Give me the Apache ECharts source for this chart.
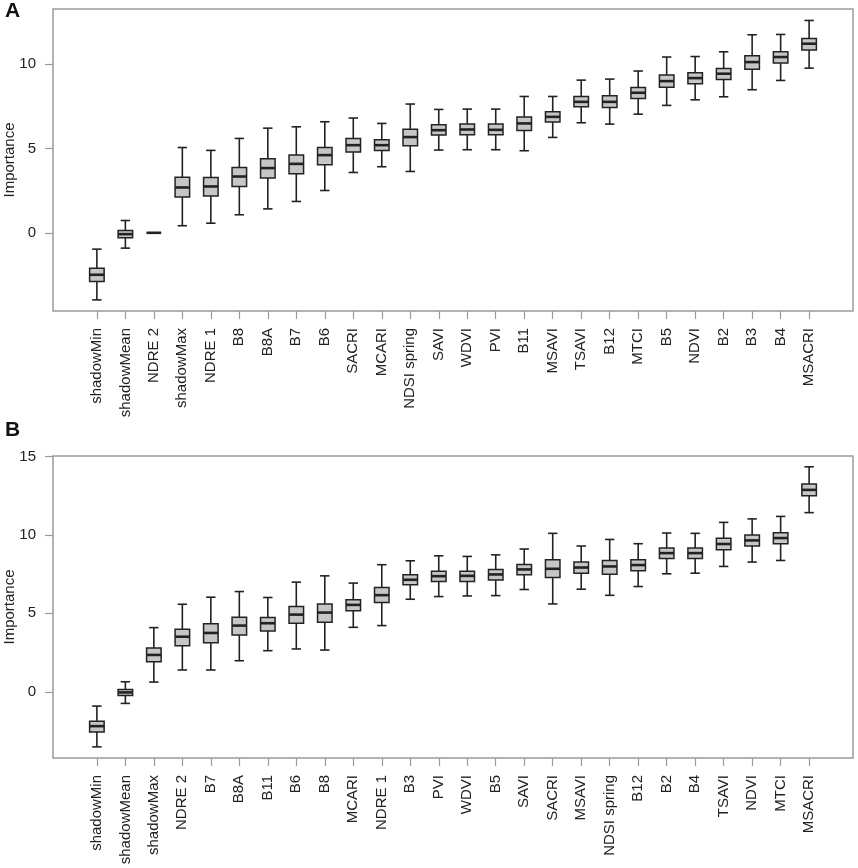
<!DOCTYPE html>
<html>
<head>
<meta charset="utf-8">
<title>Importance boxplots</title>
<script src="https://cdn.jsdelivr.net/npm/echarts@6/dist/echarts.min.js"></script>
<style>
    html, body { margin: 0; padding: 0; background: #fff; }
    #chart { width: 858px; height: 868px; }
</style>
</head>
<body>
<div id="chart"></div>
<script>
// panel A: categories and [lower whisker, Q1, median, Q3, upper whisker]
var categoriesA = ['shadowMin', 'shadowMean', 'NDRE 2', 'shadowMax', 'NDRE 1', 'B8', 'B8A', 'B7', 'B6',
    'SACRI', 'MCARI', 'NDSI spring', 'SAVI', 'WDVI', 'PVI', 'B11', 'MSAVI', 'TSAVI', 'B12', 'MTCI',
    'B5', 'NDVI', 'B2', 'B3', 'B4', 'MSACRI'];
var statsA = [
    [-3.98, -2.89, -2.49, -2.10, -0.97],
    [-0.91, -0.30, -0.08, 0.14, 0.73],
    [0, 0, 0, 0, 0],
    [0.42, 2.12, 2.69, 3.30, 5.06],
    [0.57, 2.18, 2.75, 3.28, 4.89],
    [1.07, 2.75, 3.34, 3.88, 5.60],
    [1.42, 3.25, 3.84, 4.39, 6.21],
    [1.86, 3.50, 4.09, 4.61, 6.29],
    [2.51, 4.04, 4.61, 5.06, 6.59],
    [3.58, 4.79, 5.20, 5.60, 6.81],
    [3.92, 4.89, 5.20, 5.52, 6.49],
    [3.64, 5.16, 5.68, 6.15, 7.64],
    [4.91, 5.80, 6.09, 6.41, 7.32],
    [4.93, 5.82, 6.13, 6.45, 7.34],
    [4.93, 5.82, 6.11, 6.45, 7.34],
    [4.87, 6.07, 6.49, 6.87, 8.09],
    [5.66, 6.57, 6.88, 7.18, 8.09],
    [6.53, 7.48, 7.77, 8.09, 9.06],
    [6.45, 7.44, 7.77, 8.13, 9.12],
    [7.04, 7.97, 8.31, 8.62, 9.60],
    [7.56, 8.64, 9.00, 9.36, 10.43],
    [7.89, 8.84, 9.18, 9.50, 10.46],
    [8.07, 9.10, 9.44, 9.75, 10.74],
    [8.49, 9.71, 10.13, 10.50, 11.75],
    [9.04, 10.07, 10.43, 10.74, 11.77],
    [9.77, 10.84, 11.22, 11.53, 12.60]
];

// panel B
var categoriesB = ['shadowMin', 'shadowMean', 'shadowMax', 'NDRE 2', 'B7', 'B8A', 'B11', 'B6', 'B8',
    'MCARI', 'NDRE 1', 'B3', 'PVI', 'WDVI', 'B5', 'SAVI', 'SACRI', 'MSAVI', 'NDSI spring', 'B12',
    'B2', 'B4', 'TSAVI', 'NDVI', 'MTCI', 'MSACRI'];
var statsB = [
    [-3.51, -2.56, -2.19, -1.87, -0.91],
    [-0.74, -0.23, -0.04, 0.15, 0.64],
    [0.62, 1.92, 2.35, 2.79, 4.09],
    [1.39, 2.94, 3.51, 3.99, 5.58],
    [1.39, 3.13, 3.75, 4.33, 6.03],
    [1.98, 3.62, 4.22, 4.75, 6.39],
    [2.62, 3.88, 4.37, 4.73, 6.01],
    [2.73, 4.37, 4.92, 5.43, 6.99],
    [2.66, 4.43, 5.05, 5.60, 7.39],
    [4.11, 5.16, 5.54, 5.86, 6.93],
    [4.22, 5.69, 6.16, 6.65, 8.10],
    [5.90, 6.82, 7.14, 7.46, 8.35],
    [6.07, 7.03, 7.37, 7.69, 8.67],
    [6.11, 7.03, 7.39, 7.69, 8.63],
    [6.13, 7.12, 7.48, 7.80, 8.73],
    [6.52, 7.46, 7.80, 8.12, 9.10],
    [5.60, 7.29, 7.84, 8.41, 10.10],
    [6.54, 7.56, 7.92, 8.27, 9.29],
    [6.15, 7.50, 7.99, 8.37, 9.71],
    [6.71, 7.71, 8.08, 8.41, 9.44],
    [7.52, 8.50, 8.84, 9.16, 10.12],
    [7.56, 8.50, 8.84, 9.16, 10.10],
    [7.99, 9.05, 9.42, 9.78, 10.80],
    [8.27, 9.29, 9.65, 9.99, 11.02],
    [8.37, 9.44, 9.80, 10.14, 11.18],
    [11.42, 12.50, 12.87, 13.25, 14.34]
];

var ticksA = [0, 5, 10];
var ticksB = [0, 5, 10, 15];

var FONT = 'Liberation Sans, Arial, sans-serif';
var FRAME = '#9a9a9a';
var INK = '#222';

/**
 * 一个箱线图：R风格的箱体、须线和加粗中位线
 */
function renderBox(params, api) {
    var x = api.value(0);
    var low = api.coord([x, api.value(1)]);
    var q1 = api.coord([x, api.value(2)]);
    var med = api.coord([x, api.value(3)]);
    var q3 = api.coord([x, api.value(4)]);
    var high = api.coord([x, api.value(5)]);
    var bw = api.size([1, 0])[0];
    var half = bw * 0.255;
    var cap = bw * 0.165;
    var cx = med[0];
    var line = { stroke: INK, lineWidth: 1.6 };
    return {
        type: 'group',
        children: [
            { type: 'line', shape: { x1: cx, y1: q3[1], x2: cx, y2: high[1] }, style: line },
            { type: 'line', shape: { x1: cx, y1: q1[1], x2: cx, y2: low[1] }, style: line },
            { type: 'line', shape: { x1: cx - cap, y1: high[1], x2: cx + cap, y2: high[1] }, style: line },
            { type: 'line', shape: { x1: cx - cap, y1: low[1], x2: cx + cap, y2: low[1] }, style: line },
            {
                type: 'rect',
                shape: { x: cx - half, y: q3[1], width: half * 2, height: q1[1] - q3[1] },
                style: { fill: '#c6c6c6', stroke: INK, lineWidth: 1.5 }
            },
            { type: 'line', shape: { x1: cx - half, y1: med[1], x2: cx + half, y2: med[1] }, style: { stroke: INK, lineWidth: 2.6 } }
        ]
    };
}

/**
 * 构造一个面板：外框网格 + 数据网格
 */
function panel(opt, idx, cats, stats, ticks, top, height, yMin, yMax) {
    var n = cats.length;
    var frameLeft = 53, frameWidth = 800;
    var bw = frameWidth / (n * 1.08);      // R 在两侧各留 4% 的范围
    var left = frameLeft + 0.04 * n * bw;
    var fg = idx * 2, dg = idx * 2 + 1;

    opt.grid.push({
        left: frameLeft, top: top, width: frameWidth, height: height,
        outerBoundsMode: 'none', containLabel: false,
        show: true, borderColor: FRAME, borderWidth: 1.5, backgroundColor: '#fff'
    });
    opt.grid.push({
        left: left, top: top, width: bw * n, height: height,
        outerBoundsMode: 'none', containLabel: false
    });

    opt.xAxis.push({ gridIndex: fg, type: 'value', show: false, min: 0, max: 1 });
    opt.yAxis.push({
        gridIndex: fg, type: 'value', min: yMin, max: yMax,
        name: 'Importance', nameLocation: 'middle', nameGap: 36, nameMoveOverlap: false,
        nameTextStyle: { fontFamily: FONT, fontSize: 15, color: INK },
        axisLine: { show: false },
        splitLine: { show: false },
        axisTick: { show: true, length: 8, customValues: ticks, lineStyle: { color: FRAME, width: 1.2 } },
        axisLabel: { customValues: ticks, margin: 17, fontFamily: FONT, fontSize: 15, color: INK }
    });

    opt.xAxis.push({
        gridIndex: dg, type: 'category', data: cats, boundaryGap: true, position: 'bottom',
        axisLine: { show: false, onZero: false },
        axisTick: { show: true, alignWithLabel: true, length: 8, interval: 0, lineStyle: { color: FRAME, width: 1.2 } },
        axisLabel: { interval: 0, rotate: 90, margin: 17, fontFamily: FONT, fontSize: 15, color: INK }
    });
    opt.yAxis.push({ gridIndex: dg, type: 'value', min: yMin, max: yMax, show: false });

    opt.series.push({
        type: 'custom',
        xAxisIndex: dg,
        yAxisIndex: dg,
        renderItem: renderBox,
        encode: { x: 0, y: [1, 2, 3, 4, 5] },
        data: stats.map(function (s, i) { return [i].concat(s); }),
        silent: true
    });
}

var chart = echarts.init(document.getElementById('chart'), null, { renderer: 'canvas' });
var option = {
    animation: false,
    backgroundColor: '#fff',
    title: [
        { text: 'A', left: 5, top: 1, padding: 0, textStyle: { fontFamily: FONT, fontSize: 21, fontWeight: 'bold', color: '#111' } },
        { text: 'B', left: 5, top: 420, padding: 0, textStyle: { fontFamily: FONT, fontSize: 21, fontWeight: 'bold', color: '#111' } }
    ],
    grid: [],
    xAxis: [],
    yAxis: [],
    series: []
};

panel(option, 0, categoriesA, statsA, ticksA, 9, 302, -4.64, 13.28);
panel(option, 1, categoriesB, statsB, ticksB, 456, 302, -4.22, 15.03);

chart.setOption(option);
</script>
</body>
</html>
